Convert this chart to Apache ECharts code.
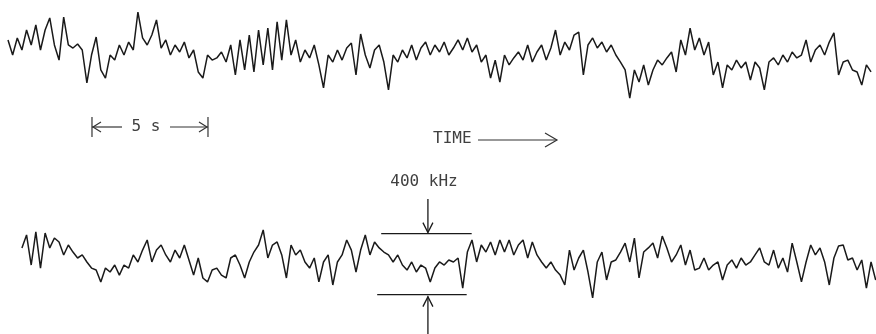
<!DOCTYPE html>
<html>
<head>
<meta charset="utf-8">
<script src="https://cdn.jsdelivr.net/npm/echarts@6/dist/echarts.min.js"></script>
<style>
  html, body { margin: 0; padding: 0; background: #ffffff; }
  #chart { width: 876px; height: 334px; }
</style>
</head>
<body>
<div id="chart"></div>
<script>
// Frequency records (kHz deviation), sampled every 0.2 s.
const SAMPLE_STEP = 0.2;           // s
const upperStart = 0.0;            // s
const lowerStart = 0.6;            // s

const upperTrace = [
  66, -33, 79, 0, 131, 33, 164, 0, 131, 210, 33, -66, 216, 33, 13, 39, 0, -216, -33, 85,
  -131, -184, -33, -66, 33, -33, 52, 0, 249, 79, 33, 98, 197, 13, 66, -33, 33, -13, 52, -52,
  0, -144, -184, -33, -66, -52, -13, -79, 33, -164, 66, -131, 98, -144, 131, -98, 144, -131, 184, -66,
  197, -33, 66, -79, 0, -52, 33, -98, -249, -33, -79, 0, -66, 13, 46, -164, 105, -33, -118, 0,
  33, -79, -262, -33, -79, 0, -52, 33, -66, 13, 52, -33, 33, -13, 52, -33, 13, 66, 0, 79,
  -13, 33, -79, -33, -184, -66, -210, -33, -98, -52, -13, -66, 33, -79, -13, 33, -66, 13, 131, -33,
  52, 0, 98, 118, -164, 33, 79, 13, 52, -13, 33, -33, -79, -131, -315, -131, -210, -98, -230, -131,
  -66, -98, -52, -13, -144, 66, -33, 144, 0, 79, -33, 52, -164, -79, -249, -98, -131, -66, -118, -79,
  -197, -79, -118, -262, -79, -52, -98, -33, -79, -13, -52, -33, 66, -79, 0, 33, -33, 52, 112, -164,
  -79, -66, -131, -144, -230, -98, -144
];

const lowerTrace = [
  66, 151, -46, 171, -66, 164, 66, 131, 105, 20, 85, 39, 0, 20, -26, -66, -79, -157, -66, -92,
  -46, -112, -46, -66, 20, -26, 52, 118, -26, 52, 85, 20, -26, 52, 0, 85, -13, -112, 0, -131,
  -157, -79, -66, -112, -131, 0, 20, -46, -131, -26, 39, 85, 184, 0, 85, 105, 20, -131, 85, 20,
  52, -26, -66, 0, -157, -26, 20, -177, -26, 20, 118, 52, -92, 52, 151, 20, 105, 66, 39, 20,
  -26, 20, -46, -79, -26, -92, -46, -66, -157, -66, -26, -46, -13, -26, 0, -197, 39, 118, -26, 85,
  39, 105, 20, 118, 39, 118, 20, 85, 118, 0, 105, 20, -26, -66, -26, -79, -112, -177, 52, -79,
  0, 52, -92, -262, -26, 39, -144, -26, -13, 39, 98, -26, 131, -131, 39, 66, 98, 0, 144, 66,
  -26, 20, 85, -46, 52, -79, -66, 0, -79, -46, -26, -144, -46, -13, -66, 0, -46, -26, 20, 66,
  -26, -46, 52, -66, 0, -92, 98, -26, -157, -26, 85, 20, 66, -26, -177, 0, 79, 85, -13, 0,
  -79, -13, -197, -26, -144
];

// Scale markers
const TIME_BAR_START = 3.62;   // s
const TIME_BAR_LENGTH = 5;     // s
const BAND_UPPER = 160;        // kHz
const BAND_WIDTH = 400;        // kHz
const BAND_FROM = 16.0;        // s
const BAND_TO = 19.9;          // s
const BAND_ARROW_AT = 18.1;    // s

const PX_PER_S = 23.2;
const PX_PER_KHZ = 61 / 400;
const X_MIN = -8 / PX_PER_S;
const X_MAX = 868 / PX_PER_S;
const Y_HALF = 50 / PX_PER_KHZ;

const toPairs = (arr, t0) => arr.map((v, i) => [+(t0 + i * SAMPLE_STEP).toFixed(2), v]);

const ink = '#1a1a1a';
const textInk = '#404040';

const chart = echarts.init(document.getElementById('chart'), null, { renderer: 'canvas' });

const xAxisBase = {
  type: 'value', min: X_MIN, max: X_MAX, show: false
};
const yAxisBase = {
  type: 'value', min: -Y_HALF, max: Y_HALF, show: false
};

chart.setOption({
  animation: false,
  backgroundColor: '#ffffff',
  grid: [
    { left: 0, right: 0, top: 0, height: 100 },
    { left: 0, right: 0, top: 208, height: 100 }
  ],
  xAxis: [
    Object.assign({ gridIndex: 0 }, xAxisBase),
    Object.assign({ gridIndex: 1 }, xAxisBase)
  ],
  yAxis: [
    Object.assign({ gridIndex: 0 }, yAxisBase),
    Object.assign({ gridIndex: 1 }, yAxisBase)
  ],
  series: [
    {
      type: 'line', xAxisIndex: 0, yAxisIndex: 0,
      data: toPairs(upperTrace, upperStart),
      showSymbol: false, clip: false, smooth: false,
      lineStyle: { color: ink, width: 1.5 }
    },
    {
      type: 'line', xAxisIndex: 1, yAxisIndex: 1,
      data: toPairs(lowerTrace, lowerStart),
      showSymbol: false, clip: false, smooth: false,
      lineStyle: { color: ink, width: 1.5 }
    }
  ]
});

// Annotation geometry from the axes
const px = (t, grid) => chart.convertToPixel({ xAxisIndex: grid }, t);
const py = (f, grid) => chart.convertToPixel({ yAxisIndex: grid }, f);

const barY = 127;
const barL = px(TIME_BAR_START, 0);
const barR = px(TIME_BAR_START + TIME_BAR_LENGTH, 0);

const bandTopY = py(BAND_UPPER, 1);
const bandBotY = py(BAND_UPPER - BAND_WIDTH, 1);
const bandL = px(BAND_FROM, 1);
const bandR = px(BAND_TO, 1);
const arrowX = px(BAND_ARROW_AT, 1);

const stroke = { stroke: ink, lineWidth: 1.3, fill: null };
const thin = { stroke: '#333', lineWidth: 1.2, fill: null };

const graphics = [
  // |<-- 5 s -->|
  { type: 'line', shape: { x1: barL, y1: barY - 10, x2: barL, y2: barY + 10 }, style: thin },
  { type: 'line', shape: { x1: barL, y1: barY, x2: barL + 30, y2: barY }, style: thin },
  { type: 'polyline', shape: { points: [[barL + 9, barY - 5], [barL + 1, barY], [barL + 9, barY + 5]] }, style: thin },
  { type: 'text', style: { text: '5 s', x: (barL + barR) / 2 - 4, y: barY, align: 'center', verticalAlign: 'middle',
      font: '16px "DejaVu Sans Mono"', fill: textInk } },
  { type: 'line', shape: { x1: barR - 38, y1: barY, x2: barR, y2: barY }, style: thin },
  { type: 'polyline', shape: { points: [[barR - 9, barY - 5], [barR - 1, barY], [barR - 9, barY + 5]] }, style: thin },
  { type: 'line', shape: { x1: barR, y1: barY - 10, x2: barR, y2: barY + 10 }, style: thin },

  // TIME ---->
  { type: 'text', style: { text: 'TIME', x: 433, y: 139, align: 'left', verticalAlign: 'middle',
      font: '16px "DejaVu Sans Mono"', fill: textInk } },
  { type: 'line', shape: { x1: 478, y1: 140, x2: 557, y2: 140 }, style: thin },
  { type: 'polyline', shape: { points: [[545, 133], [557, 140], [545, 147]] }, style: thin },

  // 400 kHz band
  { type: 'text', style: { text: BAND_WIDTH + ' kHz', x: 424, y: 182, align: 'center', verticalAlign: 'middle',
      font: '16px "DejaVu Sans Mono"', fill: textInk } },
  { type: 'line', shape: { x1: arrowX, y1: 199, x2: arrowX, y2: bandTopY - 1 }, style: stroke },
  { type: 'polyline', shape: { points: [[arrowX - 5, bandTopY - 11], [arrowX, bandTopY - 1], [arrowX + 5, bandTopY - 11]] }, style: stroke },
  { type: 'line', shape: { x1: bandL + 2, y1: bandTopY, x2: bandR + 2, y2: bandTopY }, style: stroke },
  { type: 'line', shape: { x1: bandL - 2, y1: bandBotY, x2: bandR - 3, y2: bandBotY }, style: stroke },
  { type: 'line', shape: { x1: arrowX, y1: bandBotY + 2, x2: arrowX, y2: 334 }, style: stroke },
  { type: 'polyline', shape: { points: [[arrowX - 5, bandBotY + 12], [arrowX, bandBotY + 2], [arrowX + 5, bandBotY + 12]] }, style: stroke }
];

chart.setOption({ graphic: graphics });
</script>
</body>
</html>
